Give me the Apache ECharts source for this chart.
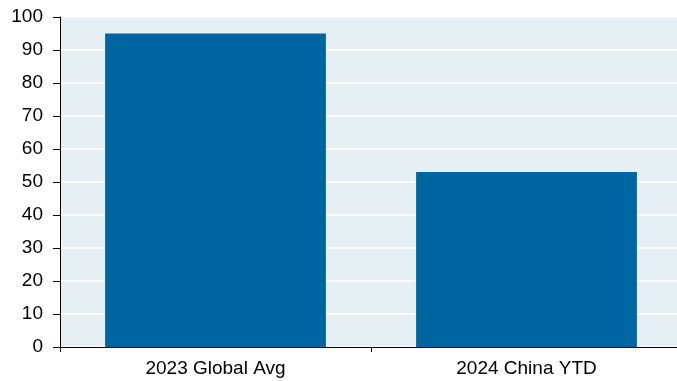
<!DOCTYPE html>
<html>
<head>
<meta charset="utf-8">
<script src="https://cdn.jsdelivr.net/npm/echarts@6/dist/echarts.min.js"></script>
<style>
  html, body { margin: 0; padding: 0; background: #fff; overflow: hidden; }
  #chart { width: 682px; height: 381px; }
</style>
</head>
<body>
<div id="chart"></div>
<script>
// categories and values
const categories = ["2023 Global Avg", "2024 China YTD"];
const values = [95, 53];

const myChart = echarts.init(document.getElementById("chart"));
const option = {
  animation: false,
  grid: {
    left: 60,
    right: 0,
    top: 17,
    bottom: 34,
    show: true,
    backgroundColor: "#e6eff3",
    borderWidth: 0,
  },
  xAxis: {
    type: "category",
    data: categories,
    axisLine: { show: true, lineStyle: { color: "#000", width: 1 } },
    axisTick: { show: true, length: 5, lineStyle: { color: "#000" } },
    axisLabel: {
      color: "#000",
      fontSize: 19,
      fontFamily: "Liberation Sans, Arial, sans-serif",
      margin: 12,
    },
    splitLine: { show: false },
  },
  yAxis: {
    type: "value",
    min: 0,
    max: 100,
    interval: 10,
    axisLine: { show: true, lineStyle: { color: "#000", width: 1 } },
    axisTick: { show: true, length: 7, lineStyle: { color: "#000" } },
    axisLabel: {
      color: "#000",
      fontSize: 19,
      fontFamily: "Liberation Sans, Arial, sans-serif",
      margin: 17,
    },
    splitLine: { show: true, lineStyle: { color: "#ffffff", width: 1.5 } },
  },
  series: [
    {
      type: "bar",
      data: values,
      barWidth: "71%",
      itemStyle: { color: "#0066a1" },
    },
  ],
};
myChart.setOption(option);
</script>
</body>
</html>
